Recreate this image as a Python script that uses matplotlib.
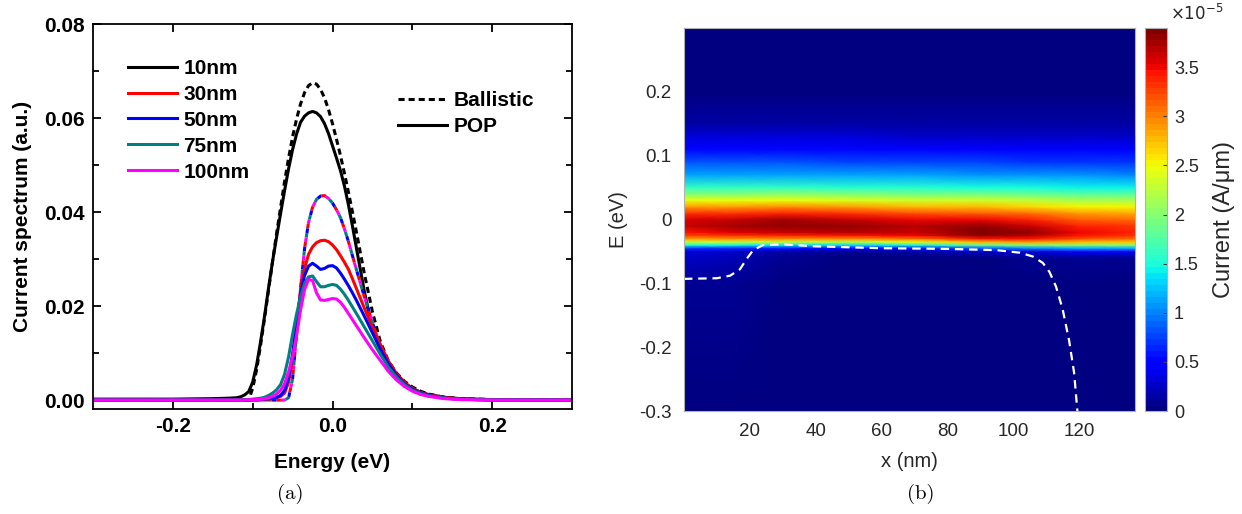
import numpy as np
import matplotlib
matplotlib.use("Agg")
import matplotlib.pyplot as plt
from matplotlib.lines import Line2D

plt.rcParams["axes.unicode_minus"] = False
plt.rcParams["font.family"] = ["Liberation Sans", "DejaVu Sans"]

# ---------------- (a) current spectra ----------------
energy = [-0.30, -0.20, -0.15, -0.13, -0.12, -0.115, -0.11, -0.105, -0.10, -0.095,
          -0.09, -0.085, -0.08, -0.075, -0.07, -0.065, -0.06, -0.055, -0.05, -0.045,
          -0.04, -0.035, -0.03, -0.025, -0.02, -0.015, -0.01, -0.005, 0.0, 0.005,
          0.01, 0.015, 0.02, 0.025, 0.03, 0.04, 0.05, 0.06, 0.07, 0.08,
          0.09, 0.10, 0.11, 0.12, 0.14, 0.16, 0.20, 0.30]

ballistic_10 = [0, 0, 0, 0, 0, 0, 0, 0, 0.0025, 0.0065,
                0.0118, 0.0175, 0.0235, 0.0296, 0.0355, 0.0410, 0.0465, 0.0515, 0.0560, 0.0598,
                0.0630, 0.0654, 0.0669, 0.0675, 0.0672, 0.0661, 0.0643, 0.0618, 0.0588, 0.0555,
                0.0520, 0.0482, 0.0442, 0.0400, 0.0357, 0.0268, 0.0188, 0.0124, 0.0083, 0.0058,
                0.0040, 0.0028, 0.0019, 0.0013, 0.0006, 0.0003, 0.0001, 0]

pop_10 = [0.0002, 0.0002, 0.0003, 0.0004, 0.0005, 0.0007, 0.0011, 0.0018, 0.0038, 0.0075,
          0.0125, 0.0180, 0.0240, 0.0296, 0.0347, 0.0397, 0.0446, 0.0492, 0.0533, 0.0566,
          0.0591, 0.0604, 0.0611, 0.0614, 0.0611, 0.0603, 0.0588, 0.0567, 0.0541, 0.0515,
          0.0488, 0.0455, 0.0415, 0.0370, 0.0323, 0.0230, 0.0152, 0.0105, 0.0072, 0.0050,
          0.0035, 0.0025, 0.0017, 0.0012, 0.0006, 0.0003, 0.0001, 0]

# ballistic spectra of the 30-100 nm devices coincide
ballistic_long = [0, 0, 0, 0, 0, 0, 0, 0, 0, 0,
                  0, 0, 0, 0, 0, 0, 0, 0.0005, 0.0045, 0.0140,
                  0.0238, 0.0322, 0.0378, 0.0410, 0.0427, 0.0434, 0.0435, 0.0429, 0.0419, 0.0405,
                  0.0388, 0.0364, 0.0337, 0.0307, 0.0277, 0.0219, 0.0165, 0.0115, 0.0080, 0.0054,
                  0.0036, 0.0024, 0.0016, 0.0011, 0.0005, 0.0002, 0.0001, 0]

pop_30 = [0, 0, 0, 0, 0, 0, 0, 0, 0, 0,
          0.0001, 0.0001, 0.0002, 0.0003, 0.0005, 0.0008, 0.0015, 0.0038, 0.0088, 0.0162,
          0.0230, 0.0280, 0.0310, 0.0326, 0.0335, 0.0339, 0.0340, 0.0337, 0.0330, 0.0320,
          0.0307, 0.0293, 0.0278, 0.0258, 0.0237, 0.0195, 0.0155, 0.0118, 0.0083, 0.0057,
          0.0038, 0.0025, 0.0016, 0.0011, 0.0005, 0.0002, 0, 0]

pop_50 = [0, 0, 0, 0, 0, 0, 0, 0, 0.0001, 0.0001,
          0.0002, 0.0002, 0.0003, 0.0004, 0.0006, 0.0010, 0.0021, 0.0048, 0.0098, 0.0165,
          0.0225, 0.0265, 0.0285, 0.0291, 0.0285, 0.0278, 0.0280, 0.0285, 0.0286, 0.0281,
          0.0270, 0.0257, 0.0243, 0.0228, 0.0212, 0.0178, 0.0143, 0.0108, 0.0077, 0.0053,
          0.0035, 0.0023, 0.0015, 0.0010, 0.0004, 0.0002, 0, 0]

pop_75 = [0, 0, 0, 0, 0, 0, 0.0001, 0.0001, 0.0002, 0.0003,
          0.0004, 0.0006, 0.0010, 0.0015, 0.0022, 0.0033, 0.0055, 0.0092, 0.0140, 0.0183,
          0.0220, 0.0248, 0.0262, 0.0264, 0.0252, 0.0241, 0.0241, 0.0244, 0.0246, 0.0244,
          0.0236, 0.0225, 0.0212, 0.0198, 0.0184, 0.0155, 0.0126, 0.0097, 0.0070, 0.0049,
          0.0033, 0.0021, 0.0014, 0.0009, 0.0004, 0.0002, 0, 0]

pop_100 = [0, 0, 0, 0, 0, 0, 0, 0.0001, 0.0001, 0.0001,
           0.0002, 0.0003, 0.0005, 0.0008, 0.0013, 0.0021, 0.0035, 0.0060, 0.0092, 0.0138,
           0.0192, 0.0235, 0.0257, 0.0254, 0.0228, 0.0213, 0.0212, 0.0214, 0.0216, 0.0215,
           0.0208, 0.0197, 0.0184, 0.0171, 0.0158, 0.0132, 0.0107, 0.0084, 0.0061, 0.0043,
           0.0029, 0.0019, 0.0012, 0.0008, 0.0003, 0.0001, 0, 0]

lengths = ["10nm", "30nm", "50nm", "75nm", "100nm"]
colors = ["#000000", "#ff0000", "#0000ff", "#008080", "#ff00ff"]

# ---------------- (b) spatially resolved current ----------------
pos_nodes = [0, 15, 30, 50, 70, 90, 105, 120, 137]
e_levels = [-0.30, -0.10, -0.06, -0.05, -0.045, -0.04, -0.035, -0.03, -0.025, -0.02,
            -0.01, 0.00, 0.01, 0.02, 0.03, 0.04, 0.05, 0.07, 0.09, 0.11,
            0.13, 0.15, 0.20, 0.30]
# current density in units of 1e-5 A/um; one column per position node
current_cols = [
    [0, 0.10, 0.25, 0.35, 0.70, 1.50, 2.30, 2.90, 3.25, 3.45, 3.60, 3.55, 3.30, 2.90, 2.45, 2.00, 1.60, 1.15, 0.80, 0.52, 0.32, 0.18, 0.04, 0],
    [0, 0.08, 0.20, 0.30, 0.65, 1.45, 2.30, 2.95, 3.35, 3.55, 3.72, 3.65, 3.35, 2.92, 2.45, 2.00, 1.60, 1.15, 0.80, 0.52, 0.32, 0.18, 0.04, 0],
    [0, 0.02, 0.08, 0.15, 0.55, 1.40, 2.30, 2.95, 3.40, 3.62, 3.82, 3.72, 3.40, 2.95, 2.48, 2.02, 1.60, 1.15, 0.80, 0.52, 0.32, 0.18, 0.04, 0],
    [0, 0.01, 0.05, 0.12, 0.45, 1.30, 2.25, 2.95, 3.45, 3.68, 3.78, 3.62, 3.30, 2.88, 2.42, 1.98, 1.58, 1.13, 0.78, 0.50, 0.31, 0.17, 0.04, 0],
    [0, 0.01, 0.05, 0.15, 0.55, 1.45, 2.45, 3.10, 3.50, 3.65, 3.70, 3.50, 3.20, 2.80, 2.36, 1.94, 1.55, 1.10, 0.76, 0.49, 0.30, 0.17, 0.04, 0],
    [0, 0.01, 0.06, 0.25, 0.80, 1.80, 2.80, 3.45, 3.78, 3.88, 3.78, 3.50, 3.15, 2.75, 2.32, 1.90, 1.52, 1.08, 0.74, 0.48, 0.29, 0.16, 0.04, 0],
    [0, 0.01, 0.08, 0.35, 1.00, 2.00, 2.90, 3.45, 3.70, 3.78, 3.65, 3.38, 3.05, 2.68, 2.27, 1.86, 1.50, 1.06, 0.73, 0.47, 0.29, 0.16, 0.04, 0],
    [0, 0.01, 0.10, 0.45, 1.10, 2.00, 2.75, 3.20, 3.42, 3.48, 3.38, 3.15, 2.88, 2.55, 2.18, 1.80, 1.46, 1.04, 0.72, 0.46, 0.28, 0.16, 0.04, 0],
    [0, 0.01, 0.12, 0.50, 1.15, 2.00, 2.70, 3.10, 3.32, 3.38, 3.30, 3.08, 2.82, 2.50, 2.14, 1.78, 1.44, 1.03, 0.71, 0.45, 0.28, 0.16, 0.04, 0],
]
current_max = 3.9

# conduction band edge along the channel
band_x = [0, 10, 14, 17, 19, 21, 24, 30, 40, 60, 80, 95, 102, 106, 109, 111, 113, 115, 117, 118.5, 119.5]
band_e = [-0.093, -0.092, -0.088, -0.078, -0.062, -0.048, -0.040, -0.039, -0.042, -0.045,
          -0.046, -0.048, -0.052, -0.058, -0.068, -0.082, -0.105, -0.14, -0.19, -0.24, -0.30]

W, H = 1242, 514
fig = plt.figure(figsize=(W / 100, H / 100), dpi=100)


def box(l, t, r, b):
    return [l / W, 1 - b / H, (r - l) / W, (b - t) / H]


# ---------- left panel ----------
ax = fig.add_axes(box(93, 24, 572, 409))
lw = 2.2
fs = 15
black_dash = (0, (2.0, 1.3))
ax.plot(energy, pop_10, color=colors[0], lw=lw)
ax.plot(energy, ballistic_10, color=colors[0], lw=lw, ls=black_dash)
dash_offsets = [0.0, 1.5, 3.0, 4.5]
for c, off in zip(colors[1:], dash_offsets):
    ax.plot(energy, ballistic_long, color=c, lw=lw, ls=(off, (1.5, 4.5)))
for c, y in zip(colors[1:], [pop_30, pop_50, pop_75, pop_100]):
    ax.plot(energy, y, color=c, lw=lw)

ax.set_xlim(-0.3, 0.3)
ax.set_ylim(-0.0019, 0.08)
ax.set_xticks([-0.2, 0.0, 0.2])
ax.set_xticks([-0.1, 0.1], minor=True)
ax.set_yticks([0.0, 0.02, 0.04, 0.06, 0.08])
ax.set_yticks([0.01, 0.03, 0.05, 0.07], minor=True)
ax.set_xticklabels(["-0.2", "0.0", "0.2"])
ax.set_yticklabels(["0.00", "0.02", "0.04", "0.06", "0.08"])
ax.tick_params(which="both", direction="in", top=True, right=True, width=1.3,
               labelsize=fs, pad=6)
ax.tick_params(which="major", length=6)
ax.tick_params(which="minor", length=4)
for lab in ax.get_xticklabels() + ax.get_yticklabels():
    lab.set_fontweight("bold")
for s in ax.spines.values():
    s.set_linewidth(1.3)
ax.set_xlabel("Energy (eV)", fontsize=fs, fontweight="bold", labelpad=12)
ax.set_ylabel("Current spectrum (a.u.)", fontsize=fs, fontweight="bold", labelpad=9)

h1 = [Line2D([], [], color=c, lw=lw) for c in colors]
leg1 = ax.legend(h1, lengths, loc="upper left", bbox_to_anchor=(0.073, 0.909),
                 frameon=False, borderpad=0, borderaxespad=0, handlelength=2.35,
                 handletextpad=0.3, labelspacing=0.33,
                 prop={"weight": "bold", "size": fs})
ax.add_artist(leg1)
h2 = [Line2D([], [], color="k", lw=lw, ls=black_dash), Line2D([], [], color="k", lw=lw)]
ax.legend(h2, ["Ballistic", "POP"], loc="upper left", bbox_to_anchor=(0.637, 0.825),
          frameon=False, borderpad=0, borderaxespad=0, handlelength=2.35,
          handletextpad=0.3, labelspacing=0.33, prop={"weight": "bold", "size": fs})

fig.text(290 / W, 1 - 494 / H, "(a)", fontsize=15, family="cmr10", ha="center", va="center")

# ---------- right panel ----------
axr = fig.add_axes(box(684, 28, 1135, 411))
jet = plt.get_cmap("jet", 64)
table = np.array(current_cols).T
mesh = axr.pcolormesh(pos_nodes, e_levels, table, shading="gouraud", cmap=jet,
                      vmin=0, vmax=current_max, rasterized=True)
axr.plot(band_x, band_e, color="white", lw=1.6, ls=(0, (3.8, 2.6)))
axr.set_xlim(0, 137)
axr.set_ylim(-0.3, 0.3)
axr.set_xticks([20, 40, 60, 80, 100, 120])
axr.set_yticks([-0.3, -0.2, -0.1, 0.0, 0.1, 0.2])
axr.set_yticklabels(["-0.3", "-0.2", "-0.1", "0", "0.1", "0.2"])
axr.tick_params(length=0, labelsize=13.5, labelcolor="#262626", pad=9)
for s in axr.spines.values():
    s.set_color("#b0b0b0")
    s.set_linewidth(0.8)
axr.set_xlabel("x (nm)", fontsize=14.5, color="#262626", labelpad=8)
axr.set_ylabel("E (eV)", fontsize=14.5, color="#262626", labelpad=8)

cax = fig.add_axes(box(1145, 28, 1167, 411))
cb = fig.colorbar(mesh, cax=cax)
cb.set_ticks([0, 0.5, 1, 1.5, 2, 2.5, 3, 3.5])
cb.set_ticklabels(["0", "0.5", "1", "1.5", "2", "2.5", "3", "3.5"])
cb.outline.set_edgecolor("#b0b0b0")
cb.outline.set_linewidth(0.8)
cax.tick_params(direction="in", length=3, color="#404040", labelsize=13,
                labelcolor="#262626", pad=5)
cb.set_label("Current (A/μm)", fontsize=17, color="#262626", labelpad=10)
fig.text(1170 / W, 1 - 13 / H, r"$\times10^{-5}$", fontsize=12, color="#262626",
         ha="left", va="center")

fig.text(921 / W, 1 - 494 / H, "(b)", fontsize=15, family="cmr10", ha="center", va="center")

fig.savefig("out.png", dpi=100)
